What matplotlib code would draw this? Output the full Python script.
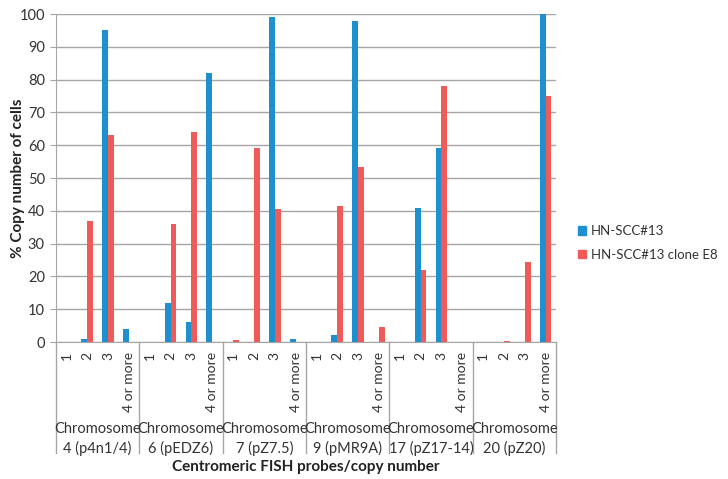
import matplotlib
matplotlib.use("Agg")
import matplotlib.pyplot as plt
import numpy as np
from matplotlib.lines import Line2D
from matplotlib.patches import Patch

plt.rcParams['font.family'] = ['Lato', 'DejaVu Sans']

groups = ["Chromosome\n4 (p4n1/4)", "Chromosome\n6 (pEDZ6)", "Chromosome\n7 (pZ7.5)",
          "Chromosome\n9 (pMR9A)", "Chromosome\n17 (pZ17-14)", "Chromosome\n20 (pZ20)"]
copy_labels = ["1", "2", "3", "4 or more"]
series_names = ["HN-SCC#13", "HN-SCC#13 clone E8"]

hn_scc13 = [0, 1, 95, 4,
            0, 12, 6, 82,
            0, 0, 99, 1,
            0, 2, 98, 0,
            0, 41, 59, 0,
            0, 0, 0, 100]
clone_e8 = [0, 37, 63, 0,
            0, 36, 64, 0,
            0.5, 59, 40.5, 0,
            0, 41.5, 53.5, 4.7,
            0, 22, 78, 0,
            0, 0.4, 24.5, 75]

blue = '#1E90D0'
red = '#EF5B58'
grid_c = '#a6a6a6'
txt_c = '#333333'

fig = plt.figure(figsize=(7.28, 4.79), dpi=100)
ax = fig.add_axes([56/728, 1-342/479, 500/728, 328/479])

n = len(hn_scc13)
x = np.arange(n)
w = 0.28
ax.bar(x - w/2, hn_scc13, w, color=blue, zorder=3)
ax.bar(x + w/2, clone_e8, w, color=red, zorder=3)

ax.set_xlim(-0.5, n - 0.5)
ax.set_ylim(0, 100)
ax.set_yticks(np.arange(0, 101, 10))
ax.yaxis.grid(True, color=grid_c, lw=1, zorder=0)
ax.tick_params(axis='y', length=4, color=grid_c, labelsize=10.5, labelcolor=txt_c, pad=4)
for s in ['top', 'right']:
    ax.spines[s].set_visible(False)
ax.spines['left'].set_color(grid_c)
ax.spines['bottom'].set_color(grid_c)

ax.set_xticks(x)
ax.set_xticklabels(copy_labels * len(groups), rotation=90, fontsize=10, color=txt_c)
ax.tick_params(axis='x', length=0, pad=7)

trans = ax.get_xaxis_transform()
ybot = -(453 - 342) / 328
for k in range(len(groups) + 1):
    xp = -0.5 + 4 * k
    ax.add_line(Line2D([xp, xp], [0, ybot], transform=trans, color=grid_c, lw=1, clip_on=False))
for k, g in enumerate(groups):
    ax.text(1.5 + 4 * k, -(439 - 342) / 328, g, transform=trans, ha='center', va='center',
            fontsize=10.5, color=txt_c, linespacing=1.35)

fig.text(306/728, 1 - 467/479, "Centromeric FISH probes/copy number", ha='center', va='center',
         fontsize=11, fontweight='bold', color='#222222')
fig.text(18/728, 1 - 178/479, "% Copy number of cells", ha='center', va='center', rotation=90,
         fontsize=11, fontweight='bold', color='#222222')

handles = [Patch(color=blue), Patch(color=red)]
fig.legend(handles, series_names, loc='center left', bbox_to_anchor=(578/728, 1 - 243/479),
           frameon=False, fontsize=9.5, handlelength=0.6, handleheight=0.6, handletextpad=0.4,
           labelspacing=0.9, labelcolor=txt_c, borderaxespad=0, borderpad=0)

fig.savefig("out.png", dpi=100)
